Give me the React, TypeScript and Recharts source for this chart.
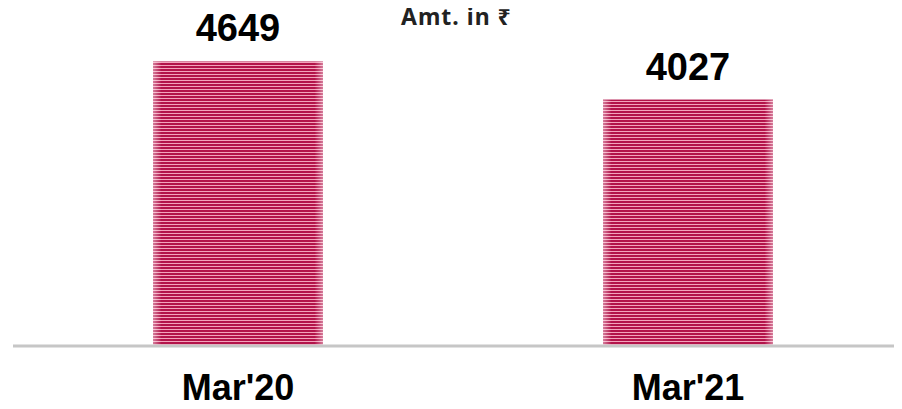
import { BarChart, Bar, XAxis, YAxis, LabelList } from 'recharts';

const periods = ["Mar'20", "Mar'21"];
const amounts = [4649, 4027];
const unitLabel = 'Amt. in ₹';

const data = periods.map((period, i) => ({ period, amount: amounts[i] }));

const StripedBar = (props: any) => {
  const { x, y, width, height } = props;
  if (!height || height <= 0) return null;
  return (
    <g>
      <rect x={x} y={y} width={width} height={height} fill="url(#stripes)" />
      <rect x={x} y={y} width={width} height={height} fill="url(#edgeFade)" />
    </g>
  );
};

export default function App() {
  return (
    <div style={{ margin: -8, width: 902, height: 409, overflow: 'hidden' }}>
      <BarChart
        width={913}
        height={409}
        data={data}
        margin={{ top: 40, right: 0, left: 13, bottom: 13 }}
      >
        <defs>
          <pattern id="stripes" patternUnits="userSpaceOnUse" width={6} height={3}>
            <rect x={0} y={0} width={6} height={2} fill="#b3134a" />
            <rect x={0} y={2} width={6} height={1} fill="#f3a3bb" />
          </pattern>
          <linearGradient id="edgeFade" x1="0" y1="0" x2="1" y2="0">
            <stop offset="0%" stopColor="#ffffff" stopOpacity={0.45} />
            <stop offset="5%" stopColor="#ffffff" stopOpacity={0} />
            <stop offset="95%" stopColor="#ffffff" stopOpacity={0} />
            <stop offset="100%" stopColor="#ffffff" stopOpacity={0.45} />
          </linearGradient>
        </defs>
        <XAxis
          dataKey="period"
          height={50}
          axisLine={{ stroke: '#c6c6c6', strokeWidth: 3 }}
          tickLine={false}
          tickSize={0}
          tickMargin={28}
          tick={{
            fill: '#000',
            fontSize: 36,
            fontWeight: 700,
            fontFamily: '"Liberation Sans", Arial, sans-serif',
          }}
        />
        <YAxis hide domain={[0, 5000]} />
        <Bar
          dataKey="amount"
          barSize={170}
          shape={StripedBar}
          isAnimationActive={false}
        >
          <LabelList
            dataKey="amount"
            position="top"
            offset={20}
            style={{
              fill: '#000',
              fontSize: 38,
              fontWeight: 700,
              fontFamily: '"Liberation Sans", Arial, sans-serif',
            }}
          />
        </Bar>
        {/* unit caption */}
        <text
          x={401}
          y={25}
          fill="#222"
          fontSize={23}
          fontWeight={700}
          letterSpacing={1}
          fontFamily='"Noto Sans", "DejaVu Sans", sans-serif'
        >
          {unitLabel}
        </text>
      </BarChart>
    </div>
  );
}
